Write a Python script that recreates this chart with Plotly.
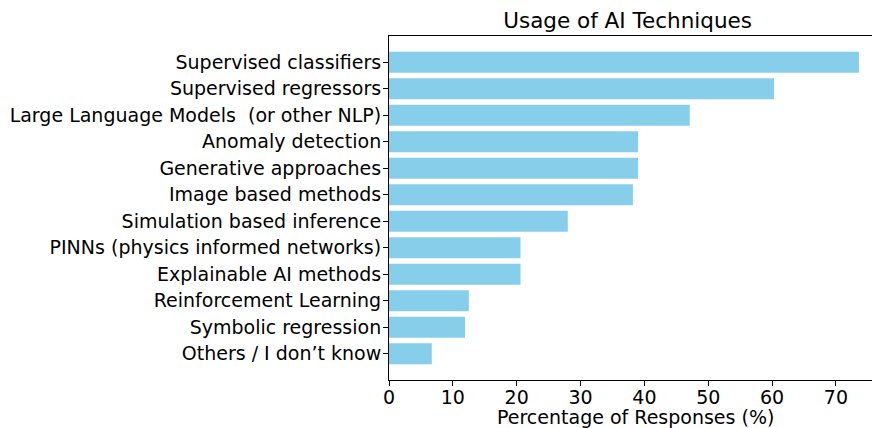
import plotly.graph_objects as go

techniques = [
    "Supervised classifiers",
    "Supervised regressors",
    "Large Language Models  (or other NLP)",
    "Anomaly detection",
    "Generative approaches",
    "Image based methods",
    "Simulation based inference",
    "PINNs (physics informed networks)",
    "Explainable AI methods",
    "Reinforcement Learning",
    "Symbolic regression",
    "Others / I don\u2019t know",
]
percentages = [73.6, 60.3, 47.1, 39.0, 39.0, 38.2, 28.0, 20.6, 20.6, 12.5, 11.9, 6.7]
x_ticks = [0, 10, 20, 30, 40, 50, 60, 70]

font = "DejaVu Sans"

fig = go.Figure()
fig.add_bar(
    x=percentages,
    y=techniques,
    orientation="h",
    marker_color="#87CEEB",
    marker_line_width=0,
    width=0.8,
)
fig.update_layout(
    width=872,
    height=428,
    margin=dict(l=389, r=0, t=36, b=48, autoexpand=False),
    plot_bgcolor="white",
    paper_bgcolor="white",
    font=dict(family=font, size=19, color="black"),
    showlegend=False,
    title=dict(
        text="Usage of AI Techniques",
        x=0.494, xref="paper", xanchor="center",
        y=1, yref="container", yanchor="top", pad=dict(t=13),
        font=dict(family=font, size=21.5, color="black"),
    ),
)
fig.add_annotation(
    text="Percentage of Responses (%)",
    x=0.5, xref="paper", xanchor="center", xshift=5,
    y=0, yref="paper", yanchor="middle", yshift=-37,
    showarrow=False, font=dict(size=19),
)
fig.update_xaxes(
    range=[0, 75.65],
    tickvals=x_ticks,
    ticks="outside", ticklen=5, tickcolor="black", tickwidth=1,
    ticklabelstandoff=-5,
    showline=True, linecolor="black", linewidth=1, mirror=True,
    showgrid=False, zeroline=False, automargin=False,
    tickfont=dict(size=19),
)
fig.update_yaxes(
    autorange=False,
    range=[11.99, -0.99],
    ticks="outside", ticklen=5, tickcolor="black", tickwidth=1,
    ticklabelstandoff=-2,
    showline=True, linecolor="black", linewidth=1,
    showgrid=False, zeroline=False, automargin=False,
    tickfont=dict(size=19),
)

fig.write_html(
    "out.html",
    config={"displayModeBar": False},
    post_script="document.body.style.margin='0';",
)
